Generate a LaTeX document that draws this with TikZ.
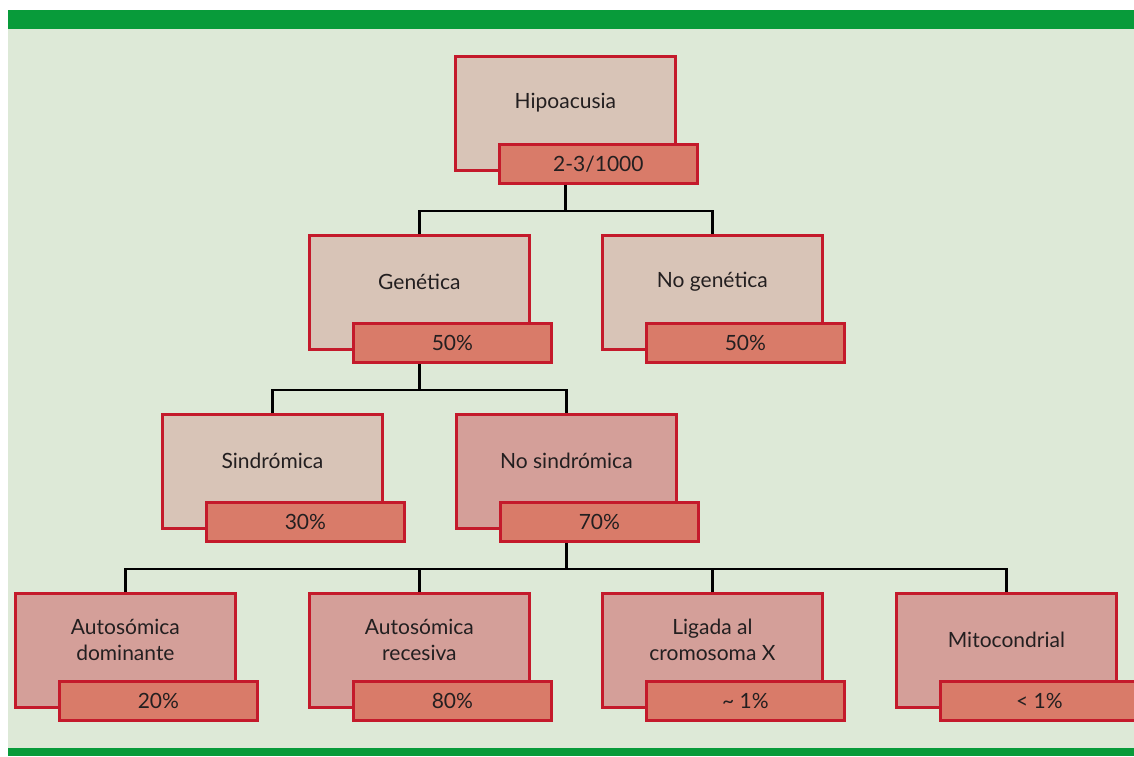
\documentclass[tikz,border=0pt]{standalone}
\usepackage{fontspec}
\setmainfont{Lato}
\usetikzlibrary{positioning,calc}
\definecolor{barGreen}{HTML}{089B3A}
\definecolor{pageGreen}{HTML}{DDE9D7}
\definecolor{boxRed}{HTML}{C41A2B}
\definecolor{boxLight}{HTML}{D8C4B7}
\definecolor{boxDark}{HTML}{D49F99}
\definecolor{boxPct}{HTML}{D97B69}
\definecolor{textGray}{HTML}{231F20}
\tikzset{
 mainbox/.style={draw=boxRed, line width=1.4pt, minimum width=110pt, minimum height=57pt, anchor=north west, inner sep=0pt},
 lightbox/.style={mainbox, fill=boxLight},
 darkbox/.style={mainbox, fill=boxDark},
 pctbox/.style={draw=boxRed, line width=1.4pt, fill=boxPct, minimum width=99pt, minimum height=19.5pt, anchor=north west, inner sep=0pt, text=textGray, font=\fontsize{10.5}{13}\selectfont},
 boxtext/.style={align=center, inner sep=0pt, text=textGray, font=\fontsize{10.5}{13}\selectfont},
 link/.style={line width=1.3pt, black}
}
\begin{document}
\begin{tikzpicture}[x=0.5pt,y=-0.5pt]
 \useasboundingbox (0,0) rectangle (1134,756);
 % page
 \fill[white] (0,0) rectangle (1134,756);
 \fill[pageGreen] (8,10) rectangle (1134,756);
 \fill[barGreen] (8,10) rectangle (1134,29);
 \fill[barGreen] (8,748) rectangle (1134,756);
 % level 1
 \node[lightbox] (hipo) at (454,55) {};
 \node[boxtext] (hipo-t) at ([yshift=-24pt]hipo.north) {Hipoacusia};
 \node[pctbox] (hipo-p) at ([xshift=22pt,yshift=-44pt]hipo.north west) {2-3/1000};
 % level 2
 \node[lightbox] (gen) at (308,234) {};
 \node[boxtext] (gen-t) at ([yshift=-24pt]gen.north) {Genética};
 \node[pctbox] (gen-p) at ([xshift=22pt,yshift=-44pt]gen.north west) {50\%};
 \node[lightbox] (nogen) at (601,234) {};
 \node[boxtext] (nogen-t) at ([yshift=-24pt]nogen.north) {No genética};
 \node[pctbox] (nogen-p) at ([xshift=22pt,yshift=-44pt]nogen.north west) {50\%};
 % level 3
 \node[lightbox] (sind) at (161,413) {};
 \node[boxtext] (sind-t) at ([yshift=-24pt]sind.north) {Sindrómica};
 \node[pctbox] (sind-p) at ([xshift=22pt,yshift=-44pt]sind.north west) {30\%};
 \node[darkbox] (nosind) at (455,413) {};
 \node[boxtext] (nosind-t) at ([yshift=-24pt]nosind.north) {No sindrómica};
 \node[pctbox] (nosind-p) at ([xshift=22pt,yshift=-44pt]nosind.north west) {70\%};
 % level 4
 \node[darkbox] (adom) at (14,592) {};
 \node[boxtext] (adom-t) at ([yshift=-24pt]adom.north) {Autosómica\\dominante};
 \node[pctbox] (adom-p) at ([xshift=22pt,yshift=-44pt]adom.north west) {20\%};
 \node[darkbox] (arec) at (308,592) {};
 \node[boxtext] (arec-t) at ([yshift=-24pt]arec.north) {Autosómica\\recesiva};
 \node[pctbox] (arec-p) at ([xshift=22pt,yshift=-44pt]arec.north west) {80\%};
 \node[darkbox] (ligx) at (601,592) {};
 \node[boxtext] (ligx-t) at ([yshift=-24pt]ligx.north) {Ligada al\\cromosoma X};
 \node[pctbox] (ligx-p) at ([xshift=22pt,yshift=-44pt]ligx.north west) {\~{} 1\%};
 \node[darkbox] (mito) at (895,592) {};
 \node[boxtext] (mito-t) at ([yshift=-24pt]mito.north) {Mitocondrial};
 \node[pctbox] (mito-p) at ([xshift=22pt,yshift=-44pt]mito.north west) {< 1\%};
 % connectors
 \draw[link] (hipo-p.south -| hipo.north) -- ++(0,-13pt) coordinate (bus1);
 \draw[link] (gen.north) |- (bus1) -| (nogen.north);
 \draw[link] (gen-p.south -| gen.north) -- ++(0,-13pt) coordinate (bus2);
 \draw[link] (sind.north) |- (bus2) -| (nosind.north);
 \draw[link] (nosind-p.south -| nosind.north) -- ++(0,-13pt) coordinate (bus3);
 \draw[link] (adom.north) |- (bus3) -| (mito.north);
 \draw[link] (arec.north) -- (arec.north |- bus3);
 \draw[link] (ligx.north) -- (ligx.north |- bus3);
\end{tikzpicture}
\end{document}
